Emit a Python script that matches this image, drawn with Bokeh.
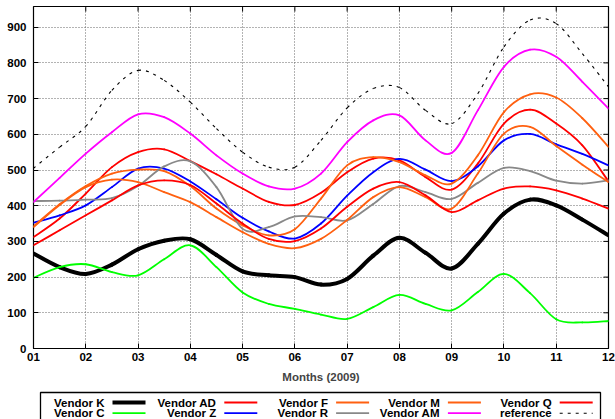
from bokeh.plotting import figure
from bokeh.layouts import column
from bokeh.models import Range1d, FixedTicker
from bokeh.core.properties import value
from bokeh.embed import file_html
from bokeh.resources import INLINE

FONT = "Liberation Sans"

# x positions (months, read every half month from the picture)
months = [1.0, 1.5, 2.0, 2.5, 3.0, 3.5, 4.0, 4.5, 5.0, 5.5, 6.0, 6.5,
          7.0, 7.5, 8.0, 8.5, 9.0, 9.5, 10.0, 10.5, 11.0, 11.5, 12.0]
month_ticks = [1, 2, 3, 4, 5, 6, 7, 8, 9, 10, 11, 12]
month_labels = ["01", "02", "03", "04", "05", "06", "07", "08", "09", "10", "11", "12"]
y_ticks = [0, 100, 200, 300, 400, 500, 600, 700, 800, 900]

vendor_k = [266, 228, 209, 235, 278, 302, 306, 262, 216, 205, 200, 179, 195, 260, 310, 268, 224, 293, 378, 417, 401, 361, 317]
vendor_c = [198, 228, 236, 214, 205, 250, 289, 228, 157, 125, 111, 95, 83, 116, 150, 125, 107, 158, 209, 155, 82, 73, 77]
vendor_ad = [312, 364, 434, 508, 550, 558, 525, 488, 448, 411, 402, 436, 494, 532, 527, 480, 445, 518, 630, 669, 630, 569, 468]
vendor_z = [352, 373, 401, 452, 504, 504, 468, 418, 366, 328, 308, 350, 428, 494, 531, 501, 469, 510, 583, 601, 572, 545, 513]
vendor_f = [342, 404, 455, 490, 501, 497, 455, 392, 345, 317, 334, 420, 513, 536, 522, 485, 462, 541, 662, 712, 703, 645, 565]
vendor_r = [413, 414, 417, 421, 455, 510, 524, 452, 335, 340, 370, 368, 359, 405, 455, 438, 419, 464, 506, 497, 470, 462, 471]
vendor_m = [340, 402, 452, 473, 466, 438, 410, 368, 326, 293, 281, 307, 360, 424, 452, 424, 392, 490, 602, 621, 567, 515, 466]
vendor_am = [410, 478, 546, 606, 656, 648, 602, 541, 490, 454, 448, 490, 578, 639, 653, 583, 548, 667, 789, 837, 817, 747, 672]
vendor_q = [289, 331, 373, 415, 457, 471, 458, 406, 350, 307, 301, 336, 397, 448, 466, 429, 382, 415, 448, 454, 443, 420, 392]
reference = [505, 564, 622, 723, 779, 751, 690, 616, 550, 508, 508, 583, 674, 728, 731, 667, 630, 714, 845, 920, 910, 826, 733]

names = ["Vendor K", "Vendor C", "Vendor AD", "Vendor Z", "Vendor F",
         "Vendor R", "Vendor M", "Vendor AM", "Vendor Q", "reference"]
series = [vendor_k, vendor_c, vendor_ad, vendor_z, vendor_f,
          vendor_r, vendor_m, vendor_am, vendor_q, reference]
colors = ["#000000", "#00ff00", "#ff0000", "#0000ff", "#ff6010",
          "#888888", "#ff6010", "#ff00ff", "#ff0000", "#000000"]
widths = [4, 1.8, 1.8, 1.8, 1.8, 1.8, 1.8, 1.8, 1.8, 1.1]
dashes = ["solid"] * 9 + ["3 5"]

X0, X1, Y0, Y1 = 1, 12, 0, 958
FRAME_W, FRAME_H = 575, 342
TICK_PX = 5


def smooth_segments(xs, ys):
    """Bezier pieces (Catmull-Rom tangents) that pass through every read point."""
    n = len(xs)
    out = {k: [] for k in ("x0", "y0", "x1", "y1", "cx0", "cy0", "cx1", "cy1")}
    for i in range(n - 1):
        a = max(i - 1, 0)
        b = min(i + 2, n - 1)
        out["x0"].append(xs[i]); out["y0"].append(ys[i])
        out["x1"].append(xs[i + 1]); out["y1"].append(ys[i + 1])
        out["cx0"].append(xs[i] + (xs[i + 1] - xs[a]) / 6.0)
        out["cy0"].append(ys[i] + (ys[i + 1] - ys[a]) / 6.0)
        out["cx1"].append(xs[i + 1] - (xs[b] - xs[i]) / 6.0)
        out["cy1"].append(ys[i + 1] - (ys[b] - ys[i]) / 6.0)
    return out


p = figure(width=615, height=390, x_range=Range1d(X0, X1), y_range=Range1d(Y0, Y1),
           output_backend="svg", toolbar_location=None,
           min_border_left=33, min_border_right=7, min_border_top=6, min_border_bottom=42)
p.background_fill_color = "white"
p.border_fill_color = "white"
p.outline_line_color = "black"
p.outline_line_width = 1.2

for ax in (p.xaxis, p.yaxis):
    ax.axis_line_color = None
    ax.major_tick_in = TICK_PX
    ax.major_tick_out = 0
    ax.minor_tick_line_color = None
    ax.major_tick_line_color = "black"
    ax.major_label_text_font = FONT
    ax.major_label_text_font_style = "bold"
    ax.major_label_text_font_size = "11.5px"
    ax.major_label_text_color = "black"

p.xaxis.ticker = FixedTicker(ticks=month_ticks)
p.xaxis.major_label_overrides = {t: l for t, l in zip(month_ticks, month_labels)}
p.xaxis.major_label_standoff = 4
p.xaxis.axis_label = "Months (2009)"
p.xaxis.axis_label_text_font = FONT
p.xaxis.axis_label_text_font_style = "bold"
p.xaxis.axis_label_text_font_size = "11.5px"
p.xaxis.axis_label_standoff = 7
p.yaxis.ticker = FixedTicker(ticks=y_ticks)
p.yaxis.major_label_standoff = 7

for g in (p.xgrid, p.ygrid):
    g.grid_line_color = "#666666"
    g.grid_line_dash = "1 2"
    g.grid_line_width = 1
p.xgrid.ticker = FixedTicker(ticks=month_ticks)
p.ygrid.ticker = FixedTicker(ticks=y_ticks)

# mirrored tick marks on the right and top edges of the frame
dx = TICK_PX * (X1 - X0) / FRAME_W
dy = TICK_PX * (Y1 - Y0) / FRAME_H
p.segment(x0=[X1 - dx] * len(y_ticks), x1=[X1] * len(y_ticks), y0=y_ticks, y1=y_ticks,
          line_color="black", line_width=1)
p.segment(x0=month_ticks, x1=month_ticks, y0=[Y1 - dy] * len(month_ticks),
          y1=[Y1] * len(month_ticks), line_color="black", line_width=1)

for ys, c, w, d in zip(series, colors, widths, dashes):
    seg = smooth_segments(months, ys)
    p.bezier(source=seg, x0="x0", y0="y0", x1="x1", y1="y1",
             cx0="cx0", cy0="cy0", cx1="cx1", cy1="cy1",
             line_color=c, line_width=w, line_dash=d,
             line_cap="round" if d == "solid" else "butt")

# legend box below the plot; x range chosen so that one unit is one pixel
q = figure(width=615, height=29, x_range=Range1d(33, 608), y_range=Range1d(29, 0),
           x_axis_type=None, y_axis_type=None, output_backend="svg",
           toolbar_location=None, min_border_left=33, min_border_right=7,
           min_border_top=0, min_border_bottom=0)
q.outline_line_color = None
q.background_fill_color = "white"
q.border_fill_color = "white"
q.quad(left=40, right=600, top=2, bottom=60, fill_color=None,
       line_color="black", line_width=1.3)

for i, (nm, c, w, d) in enumerate(zip(names, colors, widths, dashes)):
    col, row = i // 2, i % 2
    xe = 104 + col * 111.8
    yy = 12 + row * 10.7
    q.text(x=[xe], y=[yy], text=[nm], text_align="right", text_baseline="middle",
           text_font=value(FONT), text_font_style="bold", text_font_size="11.5px",
           text_color="black")
    q.segment(x0=[xe + 8], x1=[xe + 41], y0=[yy], y1=[yy], line_color=c,
              line_width=w, line_dash=d)

layout = column(p, q, spacing=0)
open("out.html", "w").write(file_html(layout, INLINE))
